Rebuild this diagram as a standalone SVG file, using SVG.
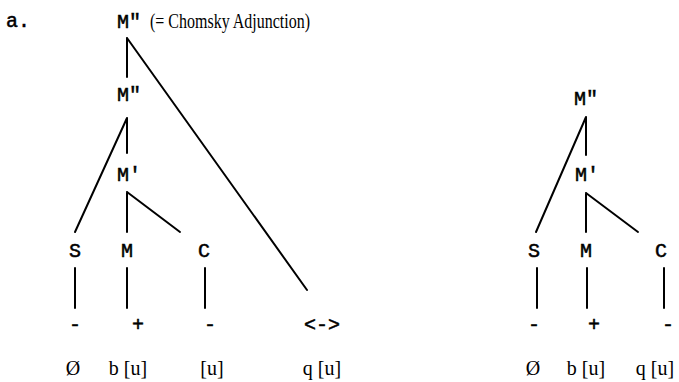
<svg xmlns="http://www.w3.org/2000/svg" width="679" height="382" viewBox="0 0 679 382">
<style>
.m{font-family:"Liberation Mono","Courier New",monospace;font-size:20px;fill:#000;stroke:#000;stroke-width:0.5}
.s{font-family:"Liberation Serif","Times New Roman",serif;font-size:20px;fill:#000}
.e{stroke:#000;stroke-width:2;fill:none;stroke-linecap:round}
</style>
<rect width="679" height="382" fill="#fff"/>
<text class="m" x="6" y="27">a.</text>
<g id="left-tree">
<g id="L-Mpp-top"><text class="m" x="117" y="28">M″</text><text class="s" x="150" y="28" font-size="18" textLength="160" lengthAdjust="spacingAndGlyphs">(= Chomsky Adjunction)</text></g>
<g id="L-Mpp"><text class="m" x="117" y="101">M″</text></g>
<g id="L-Mp"><text class="m" x="117" y="181">M′</text></g>
<g id="L-S"><text class="m" x="75" y="257" text-anchor="middle">S</text><text class="m" x="75" y="331" text-anchor="middle">-</text><text class="s" x="73" y="375" text-anchor="middle">Ø</text></g>
<g id="L-M"><text class="m" x="127" y="257" text-anchor="middle">M</text><text class="m" x="138" y="331" text-anchor="middle">+</text><text class="s" x="128" y="375" text-anchor="middle">b [u]</text></g>
<g id="L-C"><text class="m" x="204" y="257" text-anchor="middle">C</text><text class="m" x="210" y="331" text-anchor="middle">-</text><text class="s" x="212" y="375" text-anchor="middle">[u]</text></g>
<g id="L-q"><text class="m" x="322" y="331" text-anchor="middle">&lt;-&gt;</text><text class="s" x="322" y="375" text-anchor="middle">q [u]</text></g>
</g>
<g id="right-tree">
<g id="R-Mpp"><text class="m" x="574" y="105">M″</text></g>
<g id="R-Mp"><text class="m" x="575" y="181">M′</text></g>
<g id="R-S"><text class="m" x="534" y="257" text-anchor="middle">S</text><text class="m" x="534" y="331" text-anchor="middle">-</text><text class="s" x="533" y="375" text-anchor="middle">Ø</text></g>
<g id="R-M"><text class="m" x="586" y="257" text-anchor="middle">M</text><text class="m" x="594" y="331" text-anchor="middle">+</text><text class="s" x="586" y="375" text-anchor="middle">b [u]</text></g>
<g id="R-C"><text class="m" x="661" y="257" text-anchor="middle">C</text><text class="m" x="668" y="331" text-anchor="middle">-</text><text class="s" x="655" y="375" text-anchor="middle">q [u]</text></g>
</g>
<g id="connectors" class="e">
<path class="e" d="M127 38V77M127 38L307 290"/>
<path class="e" d="M127 118V153M127 118L75 232"/>
<path class="e" d="M127 192V232M127 192L180 232"/>
<path class="e" d="M75 268V308M127 268V308M205 268V308"/>
<path class="e" d="M586 117V155M586 117L536 232"/>
<path class="e" d="M586 193V232M586 193L638 232"/>
<path class="e" d="M537 268V308M587 268V308M664 268V308"/>
</g>
</svg>
